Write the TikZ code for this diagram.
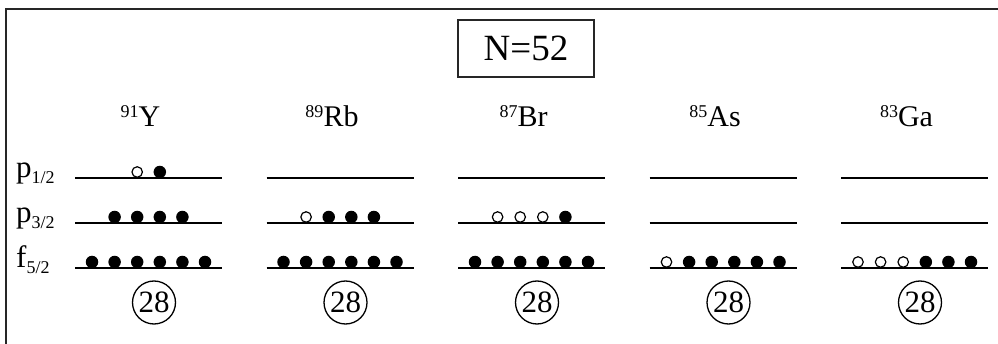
\documentclass[tikz,border=0pt]{standalone}
\usepackage{fontspec}
\setmainfont{Liberation Serif}
\usepackage{tikz}
\usetikzlibrary{positioning}
\tikzset{
  frameline/.style={
    line width=2pt,
    draw=black!85
  },
  levelline/.style={
    line width=1.5pt,
    draw=black
  },
  titlebox/.style={
    rectangle,
    draw=black!85,
    line width=1.3pt,
    minimum width=136pt,
    minimum height=57pt,
    inner sep=0pt,
    font=\fontsize{37}{37}\selectfont
  },
  isolabel/.style={
    anchor=base,
    inner sep=0pt,
    font=\fontsize{30}{30}\selectfont
  },
  levlabel/.style={
    anchor=base west,
    inner sep=0pt,
    font=\fontsize{31}{31}\selectfont
  },
  corecirc/.style={
    circle,
    draw=black,
    line width=1.3pt,
    minimum size=43pt,
    inner sep=0pt,
    font=\fontsize{31}{31}\selectfont
  },
  fullorb/.style={
    circle,
    fill=black,
    inner sep=0pt,
    minimum size=12.5pt
  },
  emptyorb/.style={
    circle,
    draw=black,
    fill=white,
    line width=1.2pt,
    inner sep=0pt,
    minimum size=10.5pt
  }
}
\newcommand{\iso}[2]{\raisebox{9pt}{\fontsize{18}{18}\selectfont #1}#2}
\newcommand{\lev}[2]{#1\raisebox{-6pt}{\fontsize{18}{18}\selectfont #2}}

\begin{document}
\begin{tikzpicture}[x=1pt,y=-1pt]
\useasboundingbox (0,0) rectangle (998,344);
\coordinate (corner) at (6,9);
\draw[frameline] (6,360) -- (corner) -- (1010,9);

\node[titlebox] (title) at (526,48.5) {N=52};

\node[levlabel] (p12) at (16,178) {\lev{p}{1/2}};
\node[levlabel] (p32) at (16,223) {\lev{p}{3/2}};
\node[levlabel] (f52) at (16,268) {\lev{f}{5/2}};

% one column per nucleus
\foreach \nuc/\sym [count=\i from 0] in {91/Y,89/Rb,87/Br,85/As,83/Ga} {
  \pgfmathsetmacro\cx{148.5+191.5*\i}
  \node[isolabel] (iso\i) at (\cx-8,127) {\iso{\nuc}{\sym}};
  \foreach \ly/\lname in {178/a,223/b,268/c}
    \draw[levelline] (\cx-73.5,\ly) coordinate (lev\i\lname w) -- (\cx+73.5,\ly) coordinate (lev\i\lname e);
  \node[corecirc] (core\i) at (\cx+5.5,302.5) {28};
}

% holes first, then particles
\foreach \i/\ly/\nopen/\nfull in {0/178/1/1,0/223/0/4,0/268/0/6,
    1/223/1/3,1/268/0/6,2/223/3/1,2/268/0/6,3/268/1/5,4/268/3/3} {
  \pgfmathtruncatemacro\ntot{\nopen+\nfull}
  \foreach \j in {1,...,\ntot} {
    \pgfmathsetmacro\dx{148.5+191.5*\i+(\j-(\ntot+1)/2)*22.6}
    \ifnum\j>\nopen
      \node[fullorb] (orb\i-\ly-\j) at (\dx,\ly-6) {};
    \else
      \node[emptyorb] (orb\i-\ly-\j) at (\dx,\ly-6) {};
    \fi
  }
}
\end{tikzpicture}
\end{document}
